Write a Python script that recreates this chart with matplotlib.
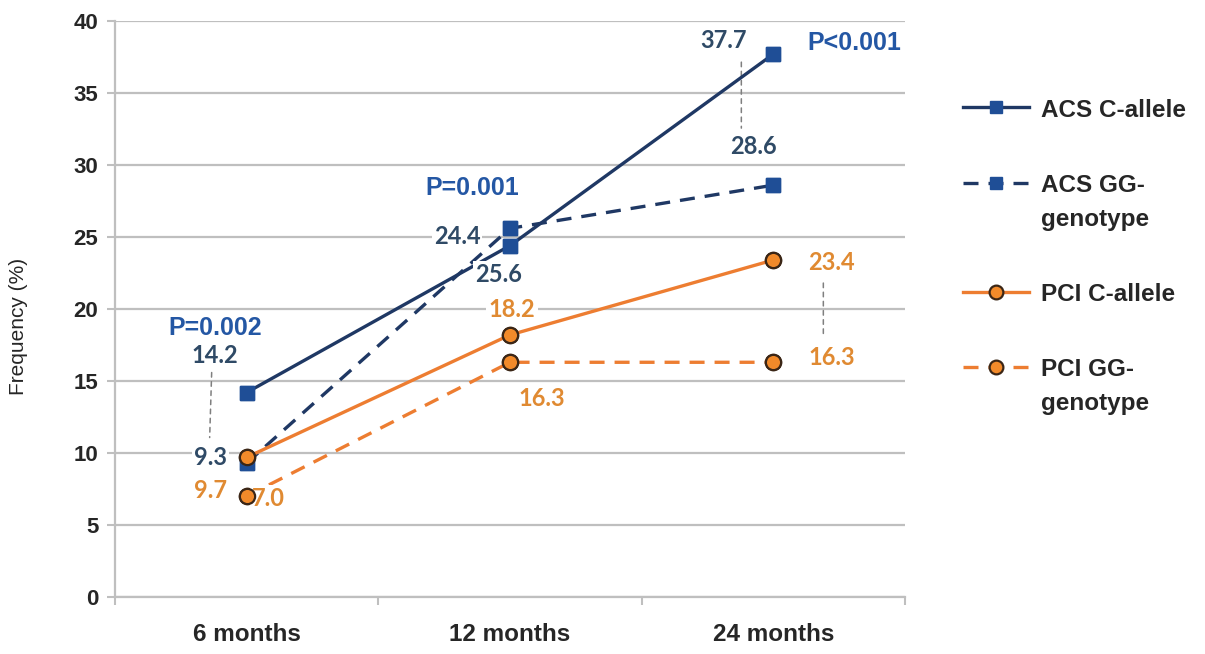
import matplotlib
matplotlib.use('Agg')
import matplotlib.pyplot as plt
from matplotlib.transforms import offset_copy

plt.rcParams['font.family'] = ['Liberation Sans', 'DejaVu Sans']

# ---------------- data ----------------
timepoints = ['6 months', '12 months', '24 months']
acs_c_allele = [14.2, 24.4, 37.7]
acs_gg_genotype = [9.3, 25.6, 28.6]
pci_c_allele = [9.7, 18.2, 23.4]
pci_gg_genotype = [7.0, 16.3, 16.3]
p_values = ['P=0.002', 'P=0.001', 'P<0.001']
series_names = ['ACS C-allele', 'ACS GG-\ngenotype', 'PCI C-allele', 'PCI GG-\ngenotype']
y_ticks = [0, 5, 10, 15, 20, 25, 30, 35, 40]

# ---------------- style ----------------
NAVY = '#1f3864'
SQ = '#1f4e96'
ORANGE = '#ed7d31'
CIRC = '#f28a2a'
CEDGE = '#3b2616'
ACS_TXT = '#2f4a66'
P_TXT = '#2457a4'
PCI_TXT = '#e08a32'
GRID = '#bfbfbf'
TXT = '#262626'

fig = plt.figure(figsize=(12.05, 6.54), dpi=100)
ax = fig.add_axes([115 / 1205, 57 / 654, 790 / 1205, 576 / 654])

x = list(range(len(timepoints)))
dash = (0, (4.5, 3))

series = [
    (acs_c_allele, NAVY, '-', 's', SQ, SQ, 10, 1.0),
    (acs_gg_genotype, NAVY, dash, 's', SQ, SQ, 10, 1.0),
    (pci_c_allele, ORANGE, '-', 'o', CIRC, CEDGE, 11, 1.6),
    (pci_gg_genotype, ORANGE, dash, 'o', CIRC, CEDGE, 11, 1.6),
]
for (vals, lc, ls, mk, mfc, mec, ms, mew), name in zip(series, series_names):
    ax.plot(x, vals, color=lc, lw=2.4, ls=ls, marker=mk, ms=ms, mfc=mfc,
            mec=mec, mew=mew, zorder=3, label=name)
    # markers redrawn on top of the label boxes
    ax.plot(x, vals, ls='none', marker=mk, ms=ms, mfc=mfc, mec=mec, mew=mew,
            zorder=6)

ax.set_xlim(-0.5, len(timepoints) - 0.5)
ax.set_ylim(0, 40)
ax.set_yticks(y_ticks)
ax.set_xticks(x)
ax.set_xticklabels(timepoints, fontsize=17.5, fontweight='bold', color=TXT)
ax.set_xticks([i - 0.5 for i in range(len(timepoints) + 1)], minor=True)
ax.tick_params(axis='x', which='major', length=0, pad=19)
ax.tick_params(axis='x', which='minor', length=6, color=GRID, width=1.5)
ax.tick_params(axis='y', length=6, color=GRID, width=1.5, pad=6, labelsize=16,
               labelcolor=TXT)
for t in ax.get_yticklabels():
    t.set_fontweight('bold')
ax.yaxis.grid(True, color=GRID, lw=1.6)
ax.set_axisbelow(True)
for s in ['top', 'right']:
    ax.spines[s].set_visible(False)
for s in ['left', 'bottom']:
    ax.spines[s].set_color(GRID)
    ax.spines[s].set_linewidth(1.6)
ax.set_ylabel('Frequency (%)', fontsize=15, color=TXT)
ax.yaxis.set_label_coords(-0.110, 0.47)

# ---------------- data labels ----------------
lab_font = dict(fontsize=17, fontweight='bold', family=['Lato', 'DejaVu Sans'])
box = dict(fc='white', ec='none', pad=1.5)

acs_c_off = [(-32, 37), (-53, 9), (-50, 14)]
acs_gg_off = [(-36, 6), (-11, -46), (-20, 39)]
pci_c_off = [(-36, -33), (2, 25), (58, -2)]
pci_gg_off = [(22, -2), (32, -36), (58, 5)]
p_off = [(-31, 65), (-38, 58), (81, 11)]

def label(vals, offs, color):
    for i, (v, o) in enumerate(zip(vals, offs)):
        ax.annotate(f'{v:.1f}', xy=(i, v), xytext=o, textcoords='offset pixels',
                    ha='center', va='center', color=color, bbox=box, zorder=5,
                    **lab_font)

label(acs_c_allele, acs_c_off, ACS_TXT)
label(acs_gg_genotype, acs_gg_off, ACS_TXT)
label(pci_c_allele, pci_c_off, PCI_TXT)
label(pci_gg_genotype, pci_gg_off, PCI_TXT)

for i, (p, o) in enumerate(zip(p_values, p_off)):
    ax.annotate(p, xy=(i, acs_c_allele[i]), xytext=o, textcoords='offset pixels',
                ha='center', va='center', color=P_TXT, fontsize=18,
                fontweight='bold', bbox=box, zorder=5)

# leader lines (relative to a data point, pixel offsets)
def leader(xi, yv, d0, d1):
    t0 = offset_copy(ax.transData, fig=fig, x=d0[0], y=d0[1], units='dots')
    t1 = offset_copy(ax.transData, fig=fig, x=d1[0], y=d1[1], units='dots')
    ax.annotate('', xy=(xi, yv), xycoords=t1, xytext=(xi, yv), textcoords=t0,
                arrowprops=dict(arrowstyle='-', ls=(0, (3, 3)), color='#7f7f7f',
                                lw=1.1, shrinkA=0, shrinkB=0), zorder=2)

leader(0, acs_c_allele[0], (-35, 20), (-37, -45))
leader(2, acs_c_allele[2], (-32, -8), (-32, -74))
leader(2, pci_c_allele[2], (50, -23), (50, -75))

# ---------------- legend ----------------
leg = ax.legend(loc='upper left', bbox_to_anchor=(941 / 1205, 1 - 77 / 654),
                bbox_transform=fig.transFigure, frameon=False,
                handlelength=2.7, handletextpad=0.5, labelspacing=2.15,
                prop=dict(size=17.5, weight='bold'), markerscale=0.9)
for t in leg.get_texts():
    t.set_linespacing(1.6)
    t.set_color(TXT)
for col in leg._legend_handle_box.get_children():
    for item in col.get_children():
        item.align = 'top'

fig.savefig('out.png', dpi=100)
